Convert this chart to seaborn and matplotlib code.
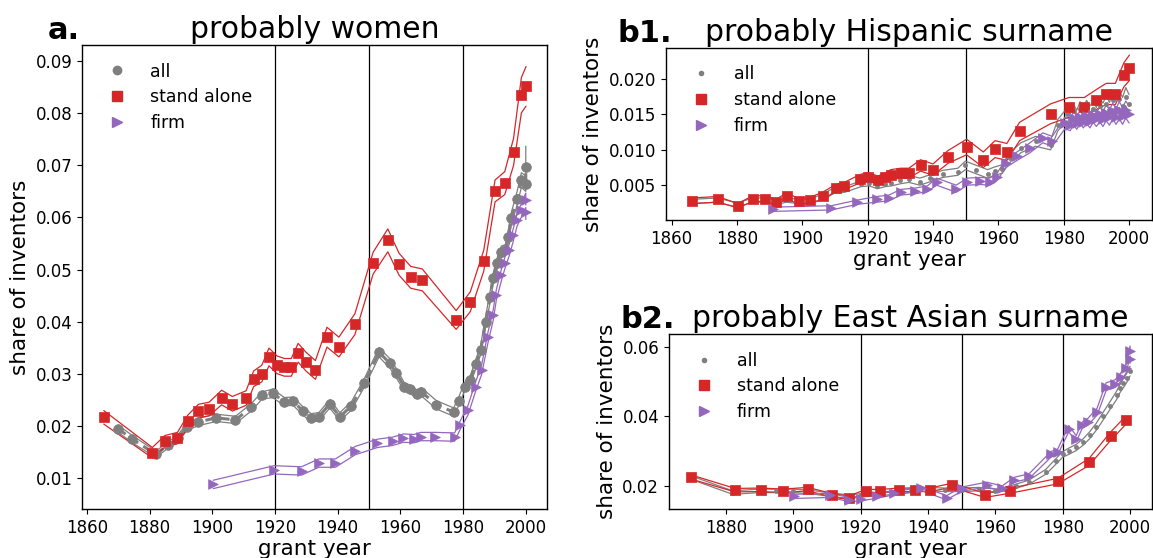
import numpy as np
import pandas as pd
import matplotlib
matplotlib.use("Agg")
import matplotlib.pyplot as plt
from matplotlib.lines import Line2D
import seaborn as sns

# ---------------- data ----------------
# panel a: probably women
a_all_year = [1870.0, 1874.5, 1882.0, 1886.0, 1889.0, 1892.0, 1895.6, 1901.2, 1907.4, 1912.4,
              1915.9, 1919.3, 1923.0, 1925.8, 1928.8, 1931.5, 1934.0, 1937.5, 1940.7, 1944.4,
              1948.4, 1953.2, 1956.6, 1958.7, 1961.2, 1963.0, 1965.2, 1966.7, 1971.5, 1977.0,
              1978.7, 1980.5, 1982.3, 1984.1, 1985.6, 1987.2, 1988.6, 1989.6, 1990.9, 1992.2,
              1993.5, 1994.4, 1995.4, 1997.2, 1998.6, 2000.0, 2000.0]
a_all_val = [0.0194, 0.0174, 0.0145, 0.0163, 0.0176, 0.0198, 0.0207, 0.0215, 0.0211, 0.0235,
             0.0258, 0.0262, 0.0246, 0.0247, 0.0229, 0.0215, 0.0217, 0.0242, 0.0217, 0.0238,
             0.0281, 0.0341, 0.0320, 0.0301, 0.0275, 0.0270, 0.0261, 0.0265, 0.0240, 0.0226,
             0.0248, 0.0275, 0.0288, 0.0319, 0.0345, 0.0400, 0.0447, 0.0483, 0.0512, 0.0534,
             0.0537, 0.0563, 0.0598, 0.0636, 0.0672, 0.0665, 0.0697]
a_all_err = [0.0007, 0.0007, 0.0006, 0.0006, 0.0006, 0.0007, 0.0007, 0.0007, 0.0007, 0.0007,
             0.0007, 0.0008, 0.0008, 0.0008, 0.0008, 0.0008, 0.0008, 0.0008, 0.0008, 0.0008,
             0.0008, 0.0009, 0.0009, 0.0009, 0.0008, 0.0008, 0.0008, 0.0008, 0.0008, 0.0008,
             0.0008, 0.0008, 0.0008, 0.0009, 0.0009, 0.0010, 0.0010, 0.0010, 0.0011, 0.0011,
             0.0011, 0.0012, 0.0012, 0.0013, 0.0014, 0.0015, 0.0040]

a_sa_year = [1865.4, 1880.9, 1884.9, 1888.9, 1892.2, 1895.6, 1899.0, 1903.0, 1906.4, 1910.8,
             1913.2, 1915.8, 1918.1, 1920.6, 1923.0, 1925.2, 1927.4, 1929.9, 1932.9, 1936.6,
             1940.4, 1945.5, 1951.3, 1956.0, 1959.6, 1963.3, 1967.0, 1977.8, 1982.3, 1986.6,
             1990.2, 1993.3, 1996.1, 1998.6, 2000.1]
a_sa_val = [0.0216, 0.0148, 0.0170, 0.0176, 0.0208, 0.0228, 0.0232, 0.0254, 0.0242, 0.0253,
            0.0290, 0.0300, 0.0332, 0.0317, 0.0312, 0.0312, 0.0340, 0.0323, 0.0307, 0.0370,
            0.0351, 0.0395, 0.0512, 0.0556, 0.0510, 0.0485, 0.0480, 0.0403, 0.0438, 0.0517,
            0.0651, 0.0666, 0.0726, 0.0835, 0.0852]
a_sa_err = [0.0013, 0.0010, 0.0011, 0.0011, 0.0012, 0.0013, 0.0013, 0.0014, 0.0014, 0.0014,
            0.0015, 0.0016, 0.0017, 0.0017, 0.0017, 0.0017, 0.0018, 0.0018, 0.0018, 0.0019,
            0.0019, 0.0020, 0.0021, 0.0022, 0.0021, 0.0021, 0.0021, 0.0018, 0.0019, 0.0020,
            0.0021, 0.0022, 0.0026, 0.0034, 0.0038]

a_firm_year = [1900.3, 1919.7, 1928.5, 1934.0, 1939.3, 1945.6, 1952.7, 1957.6, 1961.0, 1964.4,
               1966.5, 1971.2, 1977.3, 1979.1, 1981.6, 1984.0, 1985.9, 1988.0, 1989.6, 1990.6,
               1992.2, 1993.3, 1994.7, 1996.0, 1997.2, 1998.6, 2000.0, 2000.0]
a_firm_val = [0.0087, 0.0115, 0.0113, 0.0128, 0.0128, 0.0152, 0.0166, 0.0170, 0.0176, 0.0175,
              0.0179, 0.0179, 0.0178, 0.0201, 0.0230, 0.0275, 0.0307, 0.0371, 0.0412, 0.0451,
              0.0489, 0.0512, 0.0537, 0.0566, 0.0595, 0.0614, 0.0633, 0.0610]
a_firm_err = [0.0008, 0.0008, 0.0008, 0.0008, 0.0008, 0.0008, 0.0008, 0.0008, 0.0008, 0.0008,
              0.0008, 0.0008, 0.0008, 0.0008, 0.0009, 0.0009, 0.0009, 0.0010, 0.0010, 0.0010,
              0.0011, 0.0011, 0.0011, 0.0012, 0.0012, 0.0013, 0.0014, 0.0014]

# panel b1: probably Hispanic surname
b1_all_year = [1866.4, 1874.0, 1880.0, 1885.0, 1889.0, 1892.0, 1895.0, 1899.0, 1902.0, 1906.0,
               1910.0, 1913.0, 1918.0, 1920.5, 1923.0, 1925.4, 1927.3, 1930.0, 1932.6, 1936.0,
               1939.2, 1943.0, 1947.6, 1949.9, 1953.3, 1956.7, 1959.0, 1961.2, 1963.5, 1966.9,
               1971.4, 1976.0, 1978.2, 1981, 1982, 1983, 1984, 1985, 1986, 1987,
               1988, 1989, 1990, 1991, 1992, 1993, 1994, 1995, 1996, 1997,
               1998, 1999, 2000]
b1_all_val = [0.0027, 0.0029, 0.0022, 0.0029, 0.0029, 0.0025, 0.0029, 0.0027, 0.0027, 0.0033,
              0.0043, 0.0044, 0.0052, 0.0053, 0.0049, 0.0052, 0.0053, 0.0057, 0.0059, 0.0055,
              0.0060, 0.0066, 0.0069, 0.0078, 0.0072, 0.0066, 0.0070, 0.0073, 0.0089, 0.0103,
              0.0112, 0.0107, 0.0135, 0.0150, 0.0142, 0.0155, 0.0147, 0.0158, 0.0150, 0.0160,
              0.0152, 0.0158, 0.0150, 0.0162, 0.0155, 0.0165, 0.0156, 0.0170, 0.0158, 0.0172,
              0.0162, 0.0175, 0.0165]
b1_all_err = [0.0003, 0.0003, 0.0003, 0.0003, 0.0003, 0.0003, 0.0003, 0.0003, 0.0003, 0.0004,
              0.0004, 0.0004, 0.0004, 0.0004, 0.0004, 0.0004, 0.0004, 0.0005, 0.0005, 0.0005,
              0.0005, 0.0005, 0.0005, 0.0006, 0.0006, 0.0006, 0.0006, 0.0006, 0.0007, 0.0007,
              0.0007, 0.0007, 0.0008, 0.0009, 0.0009, 0.0009, 0.0009, 0.0010, 0.0010, 0.0010,
              0.0010, 0.0010, 0.0010, 0.0011, 0.0011, 0.0011, 0.0011, 0.0012, 0.0012, 0.0012,
              0.0012, 0.0013, 0.0013]

b1_sa_year = [1866.4, 1874.1, 1880.3, 1884.8, 1888.5, 1892.0, 1895.2, 1899.0, 1902.4, 1906.2,
              1910.2, 1912.9, 1917.6, 1920.1, 1923.1, 1925.4, 1927.1, 1930.1, 1932.6, 1936.2,
              1940.0, 1944.6, 1950.3, 1955.4, 1959.0, 1962.6, 1966.5, 1976.0, 1981.6, 1986.3,
              1989.9, 1993.0, 1995.8, 1998.4, 2000.1]
b1_sa_val = [0.0028, 0.0030, 0.0021, 0.0031, 0.0031, 0.0026, 0.0035, 0.0027, 0.0029, 0.0035,
             0.0046, 0.0049, 0.0059, 0.0062, 0.0057, 0.0061, 0.0065, 0.0067, 0.0067, 0.0078,
             0.0072, 0.0090, 0.0104, 0.0086, 0.0101, 0.0097, 0.0126, 0.0151, 0.0160, 0.0160,
             0.0171, 0.0179, 0.0179, 0.0206, 0.0216]
b1_sa_err = [0.0004, 0.0004, 0.0003, 0.0004, 0.0004, 0.0004, 0.0004, 0.0004, 0.0004, 0.0005,
             0.0005, 0.0005, 0.0006, 0.0006, 0.0006, 0.0006, 0.0007, 0.0007, 0.0007, 0.0008,
             0.0008, 0.0009, 0.0011, 0.0011, 0.0012, 0.0012, 0.0013, 0.0014, 0.0014, 0.0014,
             0.0014, 0.0015, 0.0015, 0.0017, 0.0018]

b1_firm_year = [1891.1, 1908.9, 1916.9, 1922.8, 1926.5, 1930.1, 1934.6, 1938.3, 1941.1, 1947.1,
                1950.5, 1954.4, 1957.3, 1959.5, 1962.3, 1965.7, 1969.7, 1973.6, 1976.5, 1980.4,
                1982, 1983, 1984, 1985, 1986, 1987, 1988, 1989, 1990, 1991,
                1992, 1993, 1994, 1995, 1996, 1997, 1998, 1999, 2000]
b1_firm_val = [0.0016, 0.0018, 0.0026, 0.0030, 0.0032, 0.0040, 0.0042, 0.0045, 0.0055, 0.0045,
               0.0055, 0.0056, 0.0055, 0.0061, 0.0081, 0.0091, 0.0103, 0.0117, 0.0112, 0.0138,
               0.0135, 0.0145, 0.0138, 0.0147, 0.0140, 0.0148, 0.0141, 0.0149, 0.0143, 0.0150,
               0.0144, 0.0152, 0.0146, 0.0155, 0.0147, 0.0156, 0.0148, 0.0157, 0.0150]
b1_firm_err = [0.0003, 0.0003, 0.0003, 0.0004, 0.0004, 0.0004, 0.0004, 0.0004, 0.0005, 0.0005,
               0.0005, 0.0005, 0.0005, 0.0005, 0.0006, 0.0006, 0.0007, 0.0007, 0.0007, 0.0008,
               0.0008, 0.0009, 0.0009, 0.0009, 0.0009, 0.0010, 0.0010, 0.0010, 0.0010, 0.0010,
               0.0011, 0.0011, 0.0011, 0.0011, 0.0011, 0.0012, 0.0012, 0.0012, 0.0012]

# panel b2: probably East Asian surname
b2_all_year = [1870, 1882, 1890, 1895, 1900, 1905, 1910, 1917, 1920, 1925,
               1930, 1935, 1940, 1945, 1950, 1955, 1960, 1963, 1966, 1970,
               1975, 1978, 1980, 1982, 1984, 1986, 1988, 1990, 1992, 1994,
               1996, 1997, 1998, 1999, 2000]
b2_all_val = [0.0222, 0.0180, 0.0185, 0.0185, 0.0185, 0.0182, 0.0175, 0.0168, 0.0172, 0.0176,
              0.0180, 0.0185, 0.0190, 0.0188, 0.0188, 0.0190, 0.0185, 0.0190, 0.0198, 0.0210,
              0.0240, 0.0270, 0.0290, 0.0300, 0.0310, 0.0325, 0.0345, 0.0370, 0.0400, 0.0430,
              0.0460, 0.0480, 0.0495, 0.0510, 0.0530]
b2_all_err = [0.0005, 0.0005, 0.0005, 0.0005, 0.0005, 0.0005, 0.0005, 0.0005, 0.0005, 0.0005,
              0.0005, 0.0005, 0.0005, 0.0005, 0.0005, 0.0005, 0.0005, 0.0005, 0.0006, 0.0006,
              0.0007, 0.0008, 0.0008, 0.0009, 0.0009, 0.0009, 0.0010, 0.0010, 0.0011, 0.0011,
              0.0012, 0.0012, 0.0013, 0.0013, 0.0014]

b2_sa_year = [1869.6, 1882.7, 1890.4, 1897.1, 1904.3, 1911.6, 1916.5, 1921.5, 1925.8, 1931.3,
              1936.2, 1940.5, 1947.1, 1956.9, 1964.3, 1978.5, 1987.8, 1994.2, 1998.7]
b2_sa_val = [0.0225, 0.0187, 0.0188, 0.0185, 0.0190, 0.0172, 0.0165, 0.0184, 0.0184, 0.0188,
             0.0188, 0.0188, 0.0201, 0.0172, 0.0185, 0.0213, 0.0268, 0.0342, 0.0388]
b2_sa_err = [0.0006, 0.0005, 0.0005, 0.0005, 0.0005, 0.0005, 0.0005, 0.0005, 0.0005, 0.0005,
             0.0005, 0.0005, 0.0006, 0.0006, 0.0007, 0.0008, 0.0010, 0.0012, 0.0012]

b2_firm_year = [1900.2, 1911.0, 1916.5, 1920.0, 1925.0, 1930.0, 1938.0, 1945.5, 1950.0, 1957.5,
                1962.0, 1965.6, 1970.0, 1976.5, 1978.5, 1981.8, 1984.0, 1985.8, 1987.5, 1990.2,
                1992.9, 1995.6, 1997.3, 1998.9, 2000.0, 2000.0]
b2_firm_val = [0.0169, 0.0172, 0.0160, 0.0162, 0.0170, 0.0180, 0.0192, 0.0165, 0.0190, 0.0203,
               0.0192, 0.0217, 0.0227, 0.0290, 0.0297, 0.0364, 0.0335, 0.0374, 0.0384, 0.0413,
               0.0485, 0.0494, 0.0513, 0.0538, 0.0588, 0.0566]
b2_firm_err = [0.0006, 0.0006, 0.0006, 0.0006, 0.0006, 0.0006, 0.0006, 0.0006, 0.0006, 0.0007,
               0.0007, 0.0007, 0.0007, 0.0008, 0.0008, 0.0009, 0.0009, 0.0009, 0.0010, 0.0010,
               0.0011, 0.0011, 0.0012, 0.0012, 0.0014, 0.0014]

era_lines = [1920, 1950, 1980]
series_labels = ["all", "stand alone", "firm"]

# ---------------- style ----------------
sns.set_style("ticks")
plt.rcParams.update({
    "font.family": ["DejaVu Sans"],
    "text.color": "black", "axes.labelcolor": "black",
    "xtick.color": "black", "ytick.color": "black",
    "axes.edgecolor": "black", "axes.linewidth": 1.0,
    "xtick.labelsize": 12, "ytick.labelsize": 12,
})

GRAY = "#7f7f7f"
RED = "#d62728"
PURPLE = "#9467bd"

fig = plt.figure(figsize=(11.53, 5.58), dpi=100)
ax_a = fig.add_axes([0.0715, 0.088, 0.4030, 0.831])
ax_b1 = fig.add_axes([0.5776, 0.606, 0.4215, 0.308])
ax_b2 = fig.add_axes([0.5802, 0.088, 0.4189, 0.313])


def draw_series(ax, years, vals, errs, color, marker, msize, dashed=False):
    df = pd.DataFrame({"year": years, "val": vals, "err": errs})
    df["lo"] = df["val"] - df["err"]
    df["hi"] = df["val"] + df["err"]
    for col in ["lo", "hi"]:
        sns.lineplot(data=df, x="year", y=col, ax=ax, color=color, lw=0.9,
                     estimator=None, sort=False, legend=False)
    if dashed:
        sns.lineplot(data=df, x="year", y="val", ax=ax, color=color, lw=2.2,
                     estimator=None, sort=False, legend=False, linestyle=(0, (3, 2)))
    sns.scatterplot(data=df, x="year", y="val", ax=ax, color=color, marker=marker,
                    s=msize ** 2, edgecolor=color, linewidth=0.5, legend=False, zorder=3)


def finish(ax, xlim, ylim, title, tag, tag_x, all_ms):
    for xv in era_lines:
        ax.axvline(xv, color="black", lw=0.9, zorder=1)
    ax.set_xlim(*xlim)
    ax.set_ylim(*ylim)
    ax.set_xlabel("grant year", fontsize=15.5, labelpad=2)
    ax.set_ylabel("share of inventors", fontsize=15.5)
    ax.set_title(title, fontsize=21.5, pad=5)
    ax.text(tag_x, 1.0, tag, transform=ax.transAxes, fontsize=22, fontweight="bold",
            va="bottom", ha="left")
    handles = [
        Line2D([], [], ls="none", marker="o", color=GRAY, markersize=all_ms),
        Line2D([], [], ls="none", marker="s", color=RED, markersize=7),
        Line2D([], [], ls="none", marker=">", color=PURPLE, markersize=7),
    ]
    ax.legend(handles, series_labels, loc="upper left", frameon=False, fontsize=12.5,
              handletextpad=0.9, labelspacing=0.45, borderaxespad=0.6)
    for s in ax.spines.values():
        s.set_visible(True)


draw_series(ax_a, a_all_year, a_all_val, a_all_err, GRAY, "o", 7, dashed=True)
draw_series(ax_a, a_sa_year, a_sa_val, a_sa_err, RED, "s", 7)
draw_series(ax_a, a_firm_year, a_firm_val, a_firm_err, PURPLE, ">", 7)
finish(ax_a, (1858.6, 2006.8), (0.0040, 0.0931), "probably women", "a.", -0.075, 6)

draw_series(ax_b1, b1_all_year, b1_all_val, b1_all_err, GRAY, "o", 3)
draw_series(ax_b1, b1_sa_year, b1_sa_val, b1_sa_err, RED, "s", 7.5)
draw_series(ax_b1, b1_firm_year, b1_firm_val, b1_firm_err, PURPLE, ">", 7)
finish(ax_b1, (1858.3, 2007.0), (0.0001, 0.0244), "probably Hispanic surname", "b1.", -0.1, 3)
ax_b1.set_yticks([0.005, 0.010, 0.015, 0.020])
ax_b1.set_yticklabels(["0.005", "0.010", "0.015", "0.020"])

draw_series(ax_b2, b2_all_year, b2_all_val, b2_all_err, GRAY, "o", 3)
draw_series(ax_b2, b2_sa_year, b2_sa_val, b2_sa_err, RED, "s", 7.5)
draw_series(ax_b2, b2_firm_year, b2_firm_val, b2_firm_err, PURPLE, ">", 7)
finish(ax_b2, (1863.1, 2006.5), (0.0133, 0.0636), "probably East Asian surname", "b2.", -0.1, 3)
ax_b2.set_yticks([0.02, 0.04, 0.06])
ax_b2.set_xticks([1880, 1900, 1920, 1940, 1960, 1980, 2000])

fig.savefig("out.png", dpi=100)
